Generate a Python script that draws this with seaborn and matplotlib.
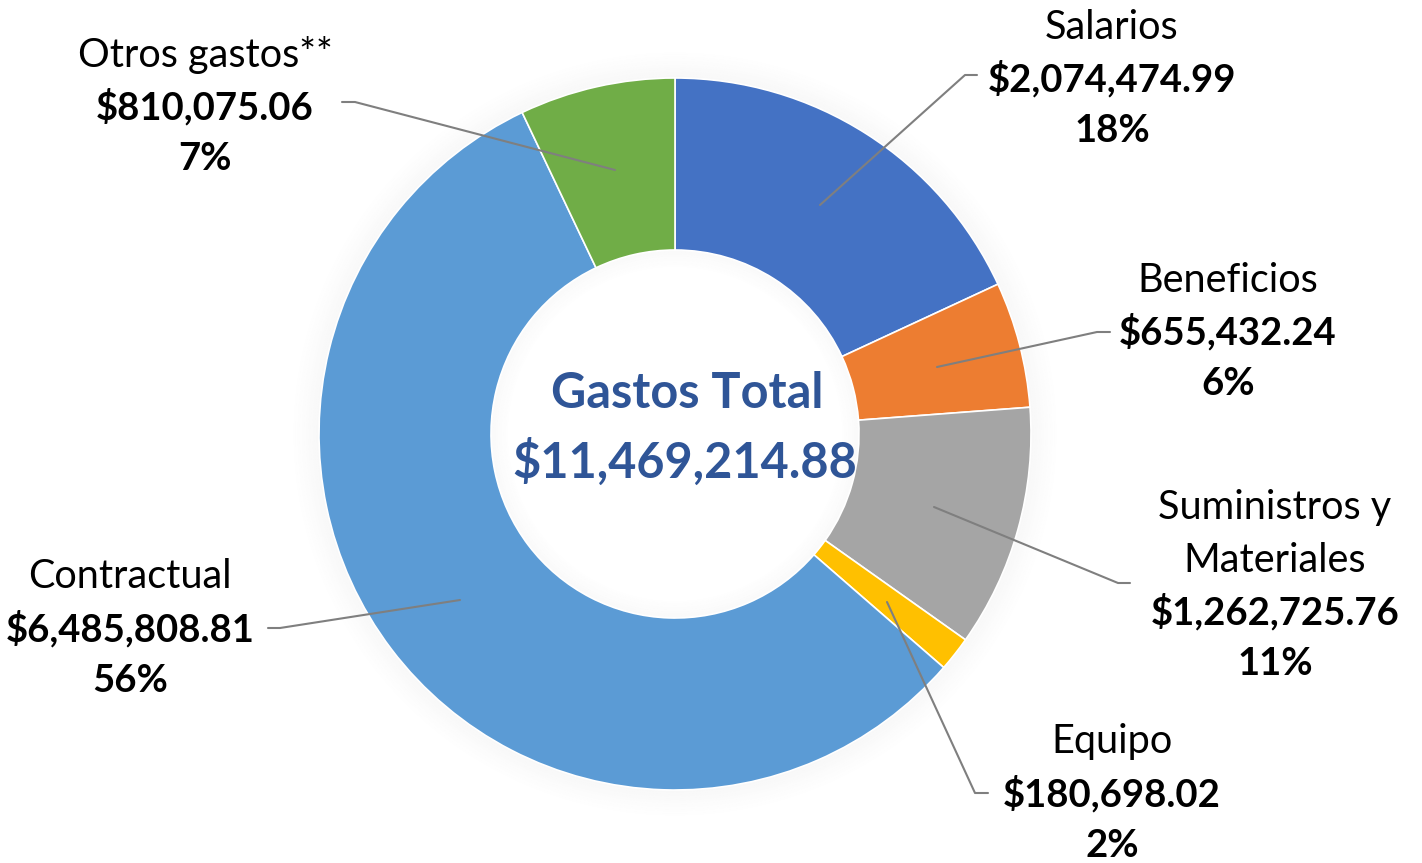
import matplotlib
matplotlib.use('Agg')
import matplotlib.pyplot as plt
from matplotlib.patches import Wedge
import seaborn as sns

sns.set_theme(style='white')
plt.rcParams['font.family'] = ['Lato', 'DejaVu Sans']

CATEGORIES = ['Salarios', 'Beneficios', 'Suministros y\nMateriales', 'Equipo', 'Contractual', 'Otros gastos**']
AMOUNTS = [2074474.99, 655432.24, 1262725.76, 180698.02, 6485808.81, 810075.06]
PERCENTS = [18, 6, 11, 2, 56, 7]
TOTAL_LABEL = '$11,469,214.88'
COLORS = ['#4472C4', '#ED7D31', '#A5A5A5', '#FFC000', '#5B9BD5', '#70AD47']

W, H = 1422, 863
CX, CY, R = 675, 434, 356
HOLE = 184 / 356


def px(x, y):
    # pixel position (from top-left) -> data coords, radius 1 == R pixels
    return (x - CX) / R, (CY - y) / R


# label layout: (text center x, first line y), leader: start, elbow, end
LAYOUT = [
    ((1112, 27), [(820, 205), (965, 75), (977, 75)]),
    ((1228, 280), [(937, 367), (1097, 332), (1110, 332)]),
    ((1275, 508), [(934, 507), (1118, 583), (1130, 583)]),
    ((1112, 742), [(887, 602), (975, 793), (988, 793)]),
    ((130, 577), [(460, 600), (280, 628), (268, 628)]),
    ((205, 55), [(615, 170), (355, 102), (342, 102)]),
]


def main():
    fig = plt.figure(figsize=(W / 100, H / 100), dpi=100)
    ax = fig.add_axes([0, 0, 1, 1])

    # soft glow around the ring and inside the hole
    for i in range(12):
        r = 1.0 + i * 0.006
        ax.add_patch(Wedge((0, 0), r + 0.006, 0, 360, width=0.006,
                           color='#808080', alpha=0.05 * (1 - i / 12), lw=0))
    for i in range(8):
        r = HOLE - i * 0.006
        ax.add_patch(Wedge((0, 0), r, 0, 360, width=0.006,
                           color='#808080', alpha=0.04 * (1 - i / 8), lw=0))

    ax.pie(AMOUNTS, colors=COLORS, startangle=90, counterclock=False,
           radius=1.0, center=(0, 0), frame=False,
           wedgeprops=dict(width=1 - HOLE, edgecolor='white', linewidth=1.2))
    ax.set_xlim(-CX / R, (W - CX) / R)
    ax.set_ylim(-(H - CY) / R, CY / R)
    ax.set_aspect('equal')
    ax.axis('off')

    step = 52
    for cat, amt, pct, ((tx, ty), pts) in zip(CATEGORIES, AMOUNTS, PERCENTS, LAYOUT):
        y = ty
        for ln in cat.split('\n'):
            ax.text(*px(tx, y), ln, ha='center', va='center', fontsize=28.5, color='black')
            y += step
        ax.text(*px(tx, y), '${:,.2f}'.format(amt), ha='center', va='center',
                fontsize=27.5, fontweight='bold', color='black')
        y += step
        ax.text(*px(tx, y), '{}%'.format(pct), ha='center', va='center',
                fontsize=27.5, fontweight='bold', color='black')
        xs, ys = zip(*[px(x, yy) for x, yy in pts])
        ax.plot(xs, ys, color='#7F7F7F', lw=1.5)

    ax.text(*px(687, 393), 'Gastos Total', ha='center', va='center',
            fontsize=35, fontweight='bold', color='#2F5597')
    ax.text(*px(685, 462), TOTAL_LABEL, ha='center', va='center',
            fontsize=35, fontweight='bold', color='#2F5597')

    fig.savefig('out.png', dpi=100)


if __name__ == '__main__':
    main()
